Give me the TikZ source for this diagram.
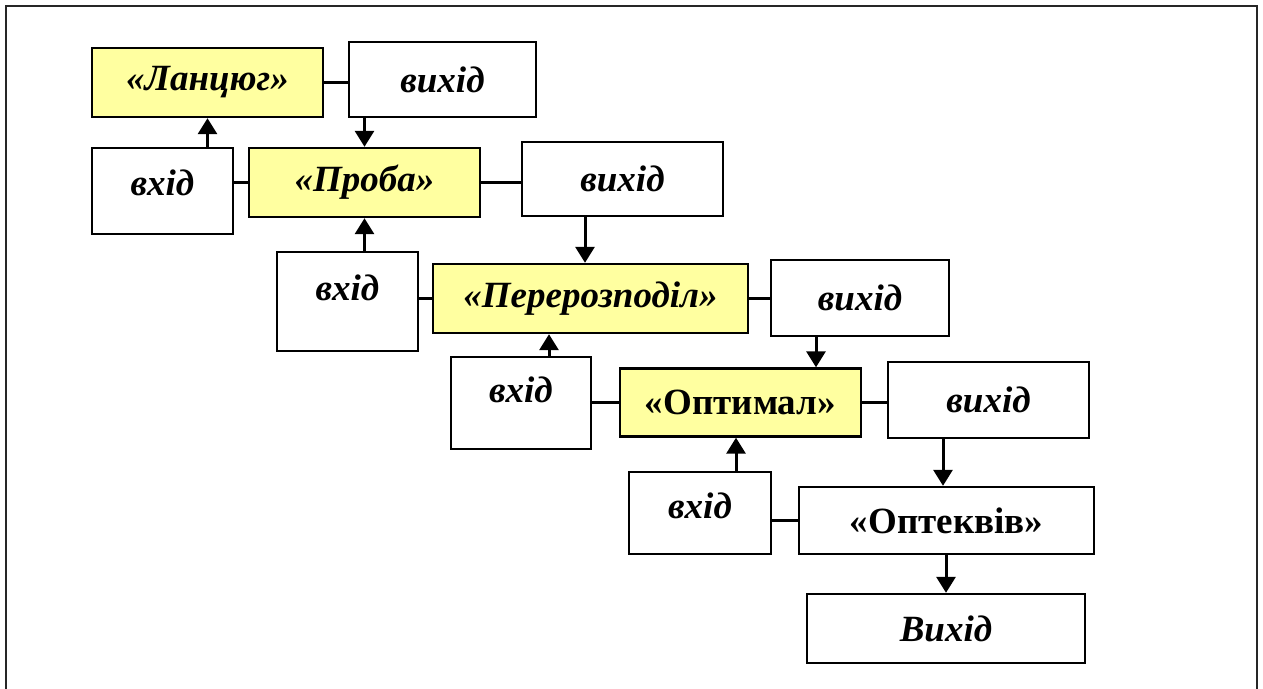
\documentclass[tikz,border=0pt]{standalone}
\usepackage{fontspec}
\setmainfont{Liberation Serif}
\usetikzlibrary{arrows.meta}
\definecolor{stageyellow}{RGB}{255,255,160}
% raise a label inside its box without changing the box size
\newcommand{\upby}[2]{\raisebox{#1}[\height][\depth]{#2}}

\begin{document}
\begin{tikzpicture}[x=1pt,y=-1pt,
  box/.style={draw=black, line width=2.4pt, fill=white, rectangle, inner sep=0pt,
    font=\fontsize{37}{40}\selectfont\bfseries\itshape},
  stage/.style={box, fill=stageyellow},
  upright/.style={font=\fontsize{37}{40}\selectfont\bfseries},
  link/.style={line width=3pt},
  flow/.style={line width=3pt, -{Triangle[length=16pt,width=19pt]}},
  frame/.style={draw=black!85, line width=2.5pt}
]
\useasboundingbox (0,0) rectangle (1263,688);
\clip (0,0) rectangle (1263,688);
\draw[frame] (6,6) rectangle (1257,760);

% chain of stages with their inputs and outputs
\node[stage, minimum width=231pt, minimum height=69pt] (lan)   at (207.5,82.5) {«Ланцюг»};
\node[box,   minimum width=187pt, minimum height=75pt] (out1)  at (442.5,79.5) {вихід};
\node[box,   minimum width=141pt, minimum height=86pt] (in1)   at (162.5,191)  {\upby{8pt}{вхід}};
\node[stage, minimum width=231pt, minimum height=69pt] (proba) at (364.5,182.5) {«Проба»};
\node[box,   minimum width=201pt, minimum height=74pt] (out2)  at (622.5,179)  {вихід};
\node[box,   minimum width=141pt, minimum height=99pt] (in2)   at (347.5,301.5) {\upby{14pt}{вхід}};
\node[stage, minimum width=315pt, minimum height=69pt] (pere)  at (590.5,298.5) {«Перерозподіл»};
\node[box,   minimum width=178pt, minimum height=76pt] (out3)  at (860,298)    {вихід};
\node[box,   minimum width=140pt, minimum height=92pt] (in3)   at (521,403)    {\upby{13.5pt}{вхід}};
\node[stage, upright, minimum width=241pt, minimum height=68pt] (opt) at (740.5,402.5) {«Оптимал»};
\node[box,   minimum width=201pt, minimum height=76pt] (out4)  at (988.5,400)  {вихід};
\node[box,   minimum width=142pt, minimum height=82pt] (in4)   at (700,513)    {\upby{7pt}{вхід}};
\node[box, upright, minimum width=295pt, minimum height=67pt] (opteq) at (946.5,520.5) {«Оптеквів»};
\node[box,   minimum width=278pt, minimum height=69pt] (res)   at (946,628.5)  {Вихід};

% connectors
\draw[link] (lan.east) -- (lan.east -| out1.west);
\draw[flow] (out1.south -| proba.north) -- (proba.north);
\draw[flow] (in1.north -| lan.south) -- (lan.south);
\draw[link] (in1.east |- proba.west) -- (proba.west);
\draw[link] (proba.east) -- (proba.east -| out2.west);
\draw[flow] (in2.north -| proba.south) -- (proba.south);
\draw[flow] (out2.south -| 585,0) -- (585,0 |- pere.north);
\draw[link] (in2.east |- pere.west) -- (pere.west);
\draw[link] (pere.east) -- (pere.east -| out3.west);
\draw[flow] (in3.north -| 549,0) -- (549,0 |- pere.south);
\draw[flow] (out3.south -| 816,0) -- (816,0 |- opt.north);
\draw[link] (in3.east |- opt.west) -- (opt.west);
\draw[link] (opt.east) -- (opt.east -| out4.west);
\draw[flow] (in4.north -| 736,0) -- (736,0 |- opt.south);
\draw[flow] (out4.south -| 943,0) -- (943,0 |- opteq.north);
\draw[link] (in4.east |- opteq.west) -- (opteq.west);
\draw[flow] (opteq.south -| res.north) -- (res.north);
\end{tikzpicture}
\end{document}
